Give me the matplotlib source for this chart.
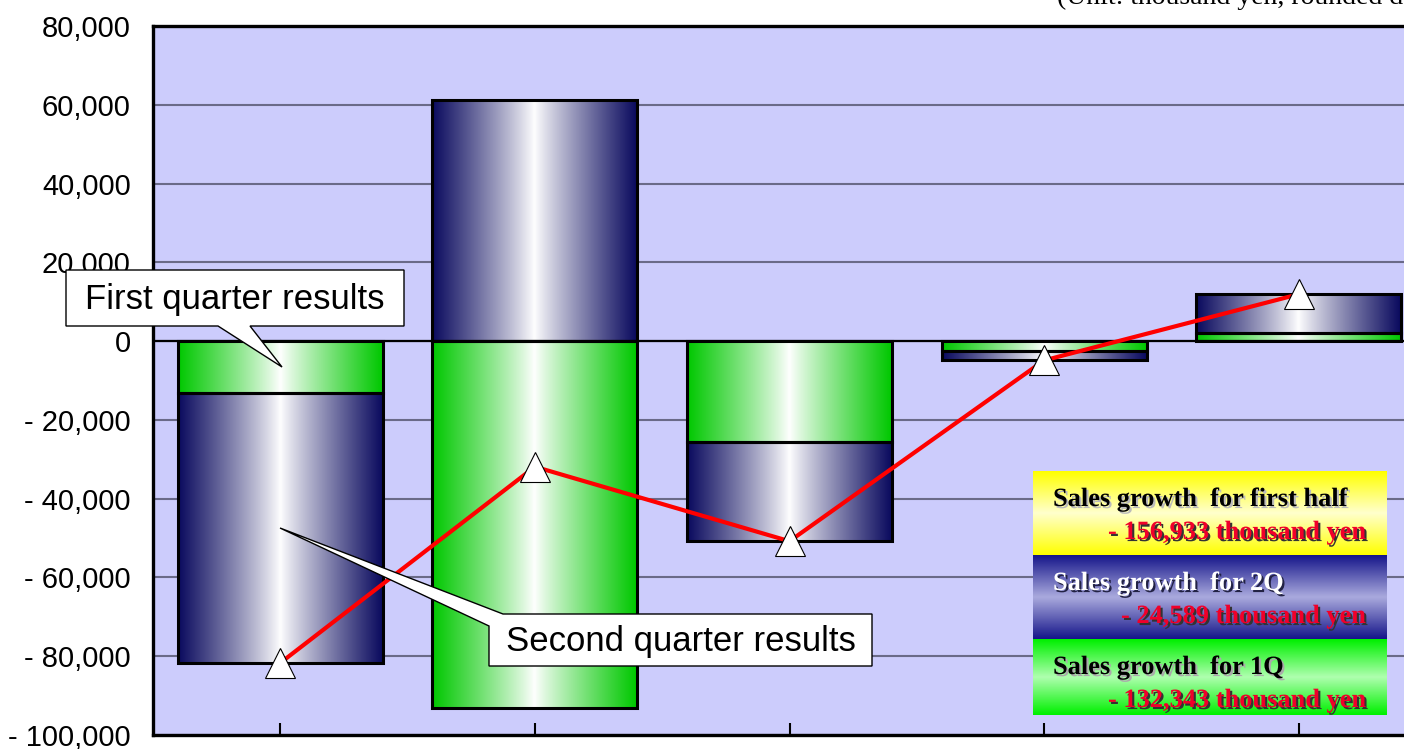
import matplotlib
matplotlib.use("Agg")
import matplotlib.pyplot as plt
from matplotlib.patches import Polygon
from matplotlib.ticker import FuncFormatter, MultipleLocator
import matplotlib.patheffects as pe
import numpy as np

# sales growth per segment (thousand yen)
categories = ["A", "B", "C", "D", "E"]
q1_growth = [-13300, -93100, -25500, -2400, 2000]
q2_growth = [-68400, 61200, -25300, -2500, 9900]

summary_titles = ["Sales growth  for first half", "Sales growth  for 2Q", "Sales growth  for 1Q"]
summary_values = ["- 156,933 thousand yen", "- 24,589 thousand yen", "- 132,343 thousand yen"]

W, H = 1404, 749
fig = plt.figure(figsize=(W / 100, H / 100), dpi=100)
ax = fig.add_axes([153 / W, 14 / H, 1273 / W, 709 / H])
ax.set_facecolor("#ccccfc")

x = np.arange(len(categories))
q1 = np.array(q1_growth)
q2 = np.array(q2_growth)
total = q1 + q2
q2_bottom = np.where(np.sign(q1) == np.sign(q2), q1, 0)

navy = np.array([10, 10, 94]) / 255
green = np.array([0, 200, 0]) / 255


def hgrad(dark, n=200):
    t = np.abs(np.linspace(-1, 1, n))
    t = t ** 0.9
    c = (1 - t)[:, None] * np.ones(3) + t[:, None] * dark
    return c[None, :, :]


bw = 0.805
bars1 = ax.bar(x, q1, bw, fill=False, edgecolor="black", linewidth=2.2, zorder=4)
bars2 = ax.bar(x, q2, bw, bottom=q2_bottom, fill=False, edgecolor="black", linewidth=2.2, zorder=4)
for bars, col in ((bars1, green), (bars2, navy)):
    g = hgrad(col)
    for r in bars:
        x0, y0 = r.get_x(), r.get_y()
        ax.imshow(g, extent=[x0, x0 + r.get_width(), y0, y0 + r.get_height()],
                  aspect="auto", zorder=3, interpolation="bilinear")

ax.plot(x, total, color="red", linewidth=3, zorder=6)
ax.plot(x, total, linestyle="none", marker="^", markersize=22, markerfacecolor="white",
        markeredgecolor="black", markeredgewidth=0.8, zorder=7)

ax.axhline(0, color="black", linewidth=1.6, zorder=5)
ax.set_xlim(-0.5, len(categories) - 0.5)
ax.set_ylim(-100000, 80000)
ax.yaxis.set_major_locator(MultipleLocator(20000))
ax.yaxis.set_major_formatter(FuncFormatter(
    lambda v, p: f"- {abs(v):,.0f}" if v < 0 else f"{v:,.0f}"))
ax.grid(axis="y", color="#6a6a88", linewidth=1.5, zorder=1)
ax.set_axisbelow(True)
ax.set_xticks(x)
ax.set_xticklabels([])
ax.tick_params(axis="x", direction="in", length=9, width=1.5, color="black")
ax.tick_params(axis="y", length=0, pad=16, labelsize=21)
for lab in ax.get_yticklabels():
    lab.set_fontfamily("Liberation Sans")
for s in ax.spines.values():
    s.set_linewidth(2.4)
    s.set_color("black")

# overlay in pixel coordinates for callouts and summary box
ov = fig.add_axes([0, 0, 1, 1], zorder=10)
ov.axis("off")
ov.patch.set_alpha(0)

call1 = [(66, 270), (404, 270), (404, 326), (250, 326), (282, 367), (218, 326), (66, 326)]
call2 = [(503, 614), (872, 614), (872, 666), (489, 666), (489, 626), (280, 528)]
for pts in (call1, call2):
    ov.add_patch(Polygon(pts, closed=True, facecolor="white", edgecolor="black", linewidth=1))
ov.text(235, 300, "First quarter results", fontsize=25, family="Liberation Sans",
        ha="center", va="center")
ov.text(681, 641, "Second quarter results", fontsize=25, family="Liberation Sans",
        ha="center", va="center")

ov.text(1057, 4, "(Unit: thousand yen, rounded down)", fontsize=20,
        family="Liberation Serif", ha="left", va="baseline")

# summary box with vertical gradients
sections = [(471, 555), (555, 639), (639, 715)]
edge_cols = [np.array([255, 255, 0]), np.array([22, 22, 138]), np.array([0, 240, 0])]
mid_cols = [np.array([255, 255, 205]), np.array([170, 170, 222]), np.array([175, 255, 175])]
for (top, bot), ec, mc in zip(sections, edge_cols, mid_cols):
    t = np.abs(np.linspace(-1, 1, 100))[:, None]
    g = ((1 - t) * mc + t * ec) / 255
    ov.imshow(g[:, None, :], extent=[1033, 1387, bot, top], aspect="auto",
              interpolation="bilinear", zorder=2)
ov.set_xlim(0, W)
ov.set_ylim(H, 0)

title_cols = ["black", "white", "black"]
shadow_cols = ["#bbbbbb", "#222244", "#aaaaaa"]
for i, (top, bot) in enumerate(sections):
    ov.text(1053, top + 35, summary_titles[i], fontsize=19, family="Liberation Serif",
            weight="bold", color=title_cols[i], va="baseline", ha="left", zorder=3,
            path_effects=[pe.withSimplePatchShadow(offset=(1.5, -1.5), shadow_rgbFace=shadow_cols[i], alpha=1)])
    ov.text(1366, top + 68, summary_values[i], fontsize=19, family="Liberation Serif",
            weight="bold", color="#f0002a", va="baseline", ha="right", zorder=3,
            path_effects=[pe.withSimplePatchShadow(offset=(1.5, -1.5), shadow_rgbFace="#333333", alpha=1)])

fig.savefig("out.png", dpi=100)
